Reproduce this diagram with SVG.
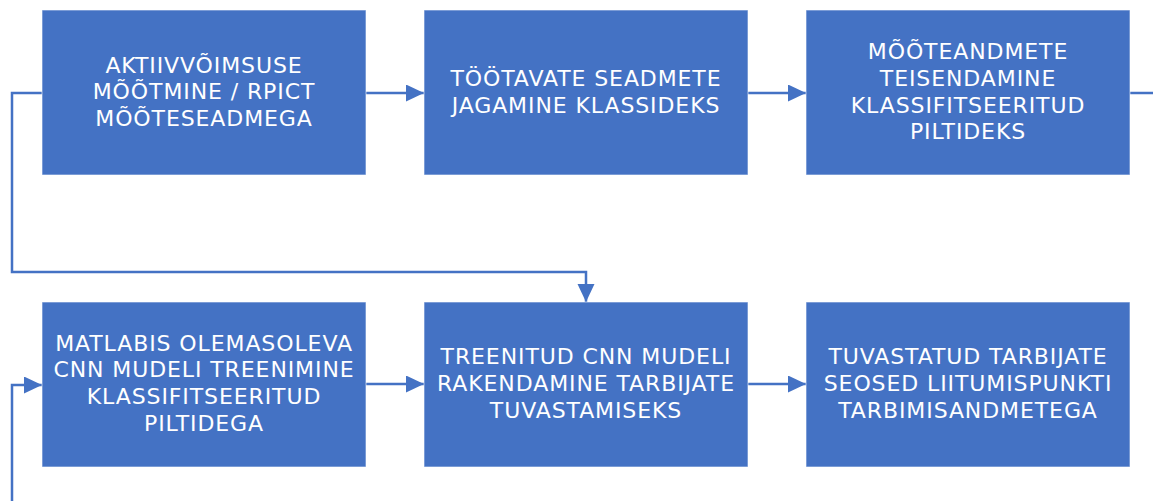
<svg xmlns="http://www.w3.org/2000/svg" width="1153" height="501" viewBox="0 0 1153 501">
  <style>
    .box { fill: #4472C4; stroke: #ffffff; stroke-opacity: 0.6; stroke-width: 1; }
    .label { fill: #ffffff; font-family: "DejaVu Sans", Verdana, sans-serif; font-size: 22px; letter-spacing: 0.9px; text-anchor: middle; }
    .wire { fill: none; stroke: #4472C4; stroke-width: 2.5; stroke-linejoin: miter; }
  </style>
  <defs>
    <marker id="arrow" markerUnits="userSpaceOnUse" markerWidth="19" markerHeight="18" refX="18" refY="8.5" orient="auto">
      <path d="M0,0 L18,8.5 L0,17 Z" fill="#4472C4"/>
    </marker>
  </defs>
  <rect width="1153" height="501" fill="#ffffff"/>

  <!-- connectors -->
  <g id="connectors">
    <path class="wire" d="M366,93 H424" marker-end="url(#arrow)"/>
    <path class="wire" d="M748,93 H806" marker-end="url(#arrow)"/>
    <path class="wire" d="M1130,93 H1153"/>
    <path class="wire" d="M42,93 H12 V272 H586 V302" marker-end="url(#arrow)"/>
    <path class="wire" d="M12,501 V385 H42" marker-end="url(#arrow)"/>
    <path class="wire" d="M366,384 H424" marker-end="url(#arrow)"/>
    <path class="wire" d="M748,384 H806" marker-end="url(#arrow)"/>
  </g>

  <!-- top row -->
  <g id="node-measure">
    <rect class="box" x="42" y="10" width="324" height="165"/>
    <text class="label" x="204"><tspan x="204" y="72.7">AKTIIVVÕIMSUSE</tspan><tspan x="204" y="99.4">MÕÕTMINE / RPICT</tspan><tspan x="204" y="126.1">MÕÕTESEADMEGA</tspan></text>
  </g>
  <g id="node-classes">
    <rect class="box" x="424" y="10" width="324" height="165"/>
    <text class="label" x="586"><tspan x="586" y="86.3">TÖÖTAVATE SEADMETE</tspan><tspan x="586" y="113">JAGAMINE KLASSIDEKS</tspan></text>
  </g>
  <g id="node-images">
    <rect class="box" x="806" y="10" width="324" height="165"/>
    <text class="label" x="968"><tspan x="968" y="59.3">MÕÕTEANDMETE</tspan><tspan x="968" y="86">TEISENDAMINE</tspan><tspan x="968" y="112.7">KLASSIFITSEERITUD</tspan><tspan x="968" y="139.4">PILTIDEKS</tspan></text>
  </g>

  <!-- bottom row -->
  <g id="node-training">
    <rect class="box" x="42" y="302" width="324" height="165"/>
    <text class="label" x="204"><tspan x="204" y="350.7">MATLABIS OLEMASOLEVA</tspan><tspan x="204" y="377.4">CNN MUDELI TREENIMINE</tspan><tspan x="204" y="404.1">KLASSIFITSEERITUD</tspan><tspan x="204" y="430.8">PILTIDEGA</tspan></text>
  </g>
  <g id="node-detection">
    <rect class="box" x="424" y="302" width="324" height="165"/>
    <text class="label" x="586"><tspan x="586" y="364.3">TREENITUD CNN MUDELI</tspan><tspan x="586" y="391">RAKENDAMINE TARBIJATE</tspan><tspan x="586" y="417.7">TUVASTAMISEKS</tspan></text>
  </g>
  <g id="node-linking">
    <rect class="box" x="806" y="302" width="324" height="165"/>
    <text class="label" x="968"><tspan x="968" y="364.3">TUVASTATUD TARBIJATE</tspan><tspan x="968" y="391">SEOSED LIITUMISPUNKTI</tspan><tspan x="968" y="417.7">TARBIMISANDMETEGA</tspan></text>
  </g>
</svg>
